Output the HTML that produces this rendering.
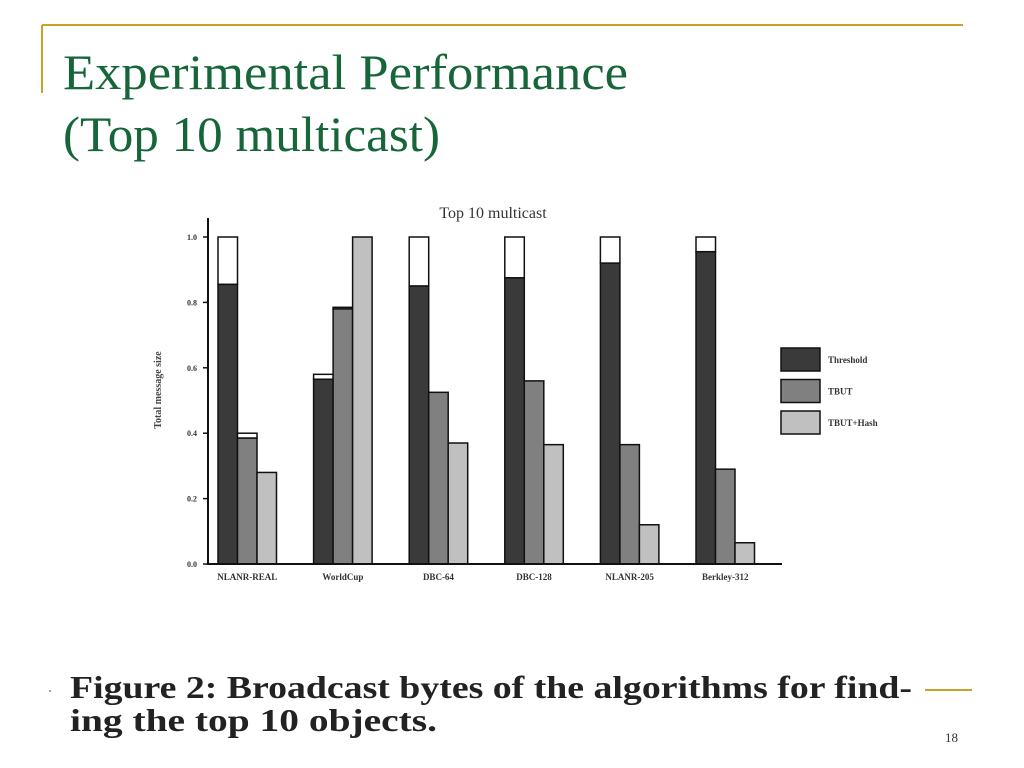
<!DOCTYPE html>
<html><head><meta charset="utf-8"><style>
html,body{margin:0;padding:0;background:#fff;width:1024px;height:768px;overflow:hidden}
svg{display:block}
</style></head><body>
<svg id="s" width="1024" height="768" xmlns="http://www.w3.org/2000/svg">
<line x1="42" y1="25" x2="963" y2="25" stroke="#c9a227" stroke-width="2"/>
<line x1="42" y1="25" x2="42" y2="93" stroke="#c9a227" stroke-width="2"/>
<text x="63" y="89" font-family="Liberation Serif, serif" font-size="50" fill="#17663a" textLength="565" lengthAdjust="spacingAndGlyphs">Experimental Performance</text>
<text x="63" y="151" font-family="Liberation Serif, serif" font-size="50" fill="#17663a" textLength="377" lengthAdjust="spacingAndGlyphs">(Top 10 multicast)</text>
<g id="chart"></g>
<circle cx="50" cy="691" r="1" fill="#888"/>
<text x="70" y="698" font-family="Liberation Serif, serif" font-weight="bold" font-size="32" fill="#222" textLength="842" lengthAdjust="spacingAndGlyphs">Figure 2: Broadcast bytes of the algorithms for find-</text>
<text x="70" y="731" font-family="Liberation Serif, serif" font-weight="bold" font-size="32" fill="#222" textLength="367" lengthAdjust="spacingAndGlyphs">ing the top 10 objects.</text>
<line x1="925" y1="690" x2="972" y2="690" stroke="#c9a227" stroke-width="2"/>
<text x="945" y="742" font-family="Liberation Serif, serif" font-size="13" fill="#333">18</text>
</svg>
<script>
const categories=["NLANR-REAL","WorldCup","DBC-64","DBC-128","NLANR-205","Berkley-312"];
const thresholdVals=[0.855,0.565,0.85,0.875,0.92,0.955];
const thresholdTops=[1.0,0.58,1.0,1.0,1.0,1.0];
const tbutVals=[0.385,0.78,0.525,0.56,0.365,0.29];
const tbutTops=[0.40,0.785,0.525,0.56,0.365,0.29];
const hashVals=[0.28,1.0,0.37,0.365,0.12,0.065];
const yTicks=[0.0,0.2,0.4,0.6,0.8,1.0];
const seriesNames=["Threshold","TBUT","TBUT+Hash"];

const NS="http://www.w3.org/2000/svg";
const g=document.getElementById('chart');
const y0=564,y1=237;
const y=v=>y0-(y0-y1)*v;
const gx0=218,gstep=95.6,bw=19.5;
const x=(i,k)=>gx0+i*gstep+k*bw;
function el(t,a){const e=document.createElementNS(NS,t);for(const k in a)e.setAttribute(k,a[k]);g.appendChild(e);return e;}
const cols=["#3a3a3a","#808080","#c0c0c0"];
function bar(i,k,v,top,name){
  if(top>v){
    const w=el('rect',{x:x(i,k),y:y(top),width:bw,height:y(v)-y(top),fill:'#fff',stroke:'#111','stroke-width':1.5});
    
    
  }
  const r=el('rect',{x:x(i,k),y:y(v),width:bw,height:y0-y(v),fill:cols[k],stroke:'#111','stroke-width':1.5});
  
  
}
categories.forEach((c,i)=>{
  bar(i,0,thresholdVals[i],thresholdTops[i],'bar-threshold-'+i);
  bar(i,1,tbutVals[i],tbutTops[i],'bar-tbut-'+i);
  bar(i,2,hashVals[i],hashVals[i],'bar-tbut-hash-'+i);
  const t=el('text',{x:x(i,1.5),y:580,'text-anchor':'middle','font-family':'Liberation Serif, serif','font-weight':'bold','font-size':9,fill:'#333'});
  t.textContent=c;
  
  
});
const ax=el('path',{d:`M208 218 V564 H782`,fill:'none',stroke:'#111','stroke-width':2});


yTicks.forEach(v=>{
  const tk=el('line',{x1:203,x2:208,y1:y(v),y2:y(v),stroke:'#111','stroke-width':1.5});
  
  
  const t=el('text',{x:197,y:y(v)+3,'text-anchor':'end','font-family':'Liberation Serif, serif','font-weight':'bold','font-size':8,fill:'#333'});
  t.textContent=v.toFixed(1);
  
  
});
const yt=el('text',{x:0,y:0,transform:'translate(161,390) rotate(-90)','text-anchor':'middle','font-family':'Liberation Serif, serif','font-weight':'bold','font-size':10,fill:'#444'});
yt.textContent='Total message size';


const ct=el('text',{x:493,y:218,'text-anchor':'middle','font-family':'Liberation Serif, serif','font-size':16,fill:'#333'});
ct.textContent='Top 10 multicast';


seriesNames.forEach((n,k)=>{
  const yy=348+k*31.5;
  const b=el('rect',{x:781,y:yy,width:39,height:23,fill:cols[k],stroke:'#111','stroke-width':1.5});
  
  
  const t=el('text',{x:828,y:yy+15,'font-family':'Liberation Serif, serif','font-weight':'bold','font-size':9,fill:'#333'});
  t.textContent=n;
  
  
});
</script>
</body></html>
